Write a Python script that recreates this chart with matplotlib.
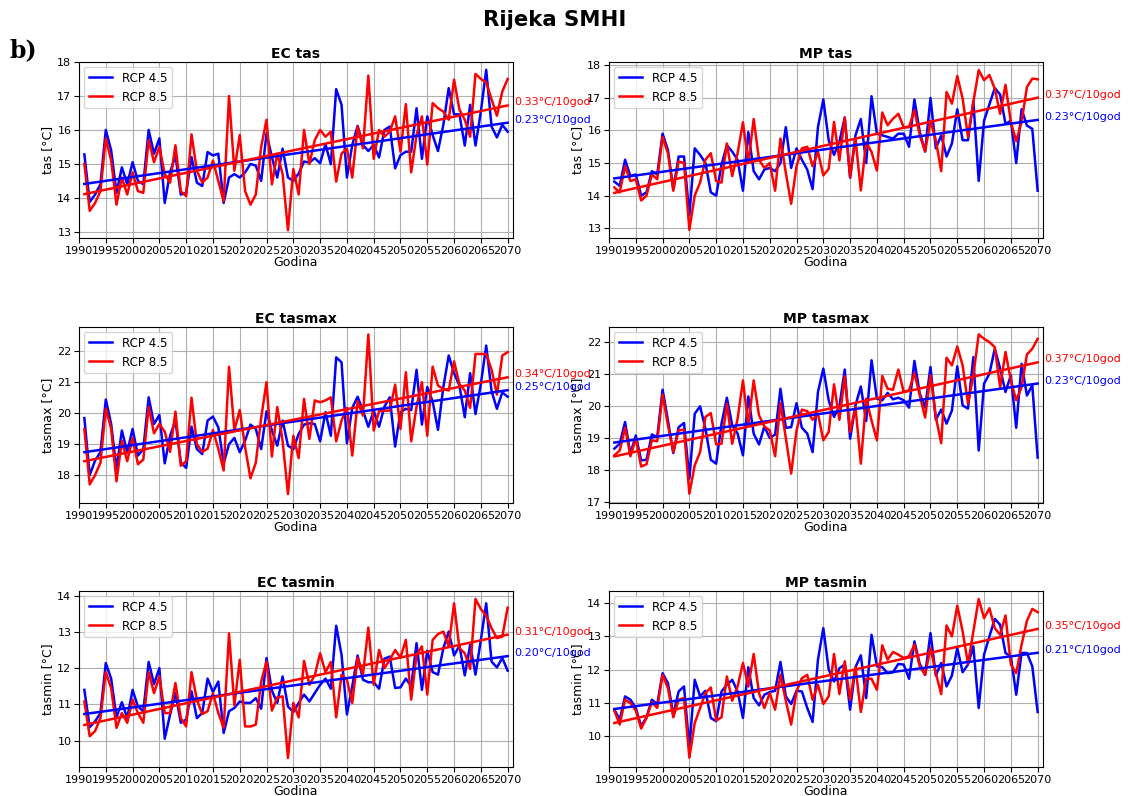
import numpy as np
import matplotlib
matplotlib.use("Agg")
import matplotlib.pyplot as plt

years = np.arange(1991, 2071)

ec_tas_45 = [15.28, 13.88, 14.1, 14.4, 16.0, 15.4, 14.15, 14.9, 14.4, 15.05,
             14.5, 14.4, 16.0, 15.3, 15.75, 13.85, 14.75, 15.25, 14.1, 14.15,
             15.2, 14.45, 14.35, 15.35, 15.25, 15.3, 13.85, 14.6, 14.7, 14.6,
             14.75, 15.0, 14.95, 14.5, 15.9, 15.2, 14.6, 15.45, 14.6, 14.5,
             14.72, 15.07, 15.04, 15.17, 15.02, 15.58, 14.99, 17.2, 16.74, 14.6,
             15.56, 16.12, 15.56, 15.38, 15.56, 15.19, 16.0, 16.1, 14.87, 15.26,
             15.36, 15.36, 16.64, 15.15, 16.4, 15.85, 15.38, 16.15, 17.23, 16.46,
             16.46, 15.54, 16.74, 15.54, 16.54, 17.77, 16.1, 15.78, 16.15, 15.95]
ec_tas_85 = [15.0, 13.62, 13.85, 14.2, 15.75, 15.1, 13.8, 14.6, 14.1, 14.75,
             14.2, 14.15, 15.7, 15.05, 15.5, 14.7, 14.45, 15.55, 14.2, 14.05,
             15.87, 14.8, 14.45, 14.6, 15.1, 14.5, 13.9, 17.0, 14.8, 15.85,
             14.2, 13.8, 14.1, 15.5, 16.3, 14.4, 15.3, 14.7, 13.05, 14.85,
             14.1, 16.0, 15.0, 15.7, 16.0, 15.8, 15.95, 14.48, 15.3, 15.45,
             14.6, 16.1, 15.46, 17.6, 15.15, 16.0, 15.8, 15.95, 16.4, 15.36,
             16.76, 14.75, 15.85, 16.4, 14.98, 16.79, 16.64, 16.54, 16.3, 17.48,
             16.6, 16.3, 15.8, 17.65, 17.5, 17.4, 16.9, 16.42, 17.13, 17.5]

mp_tas_45 = [14.43, 14.3, 15.1, 14.6, 14.65, 14.0, 14.1, 14.75, 14.65, 15.9,
             15.4, 14.2, 15.2, 15.2, 13.4, 15.45, 15.25, 15.0, 14.1, 14.0,
             14.95, 15.55, 15.35, 15.1, 14.15, 15.95, 14.75, 14.5, 14.8, 14.85,
             14.75, 15.0, 16.1, 14.85, 15.45, 15.1, 14.8, 14.2, 16.1, 16.95,
             15.7, 15.25, 15.65, 16.4, 14.55, 15.85, 16.35, 15.0, 17.05, 15.9,
             15.85, 15.8, 15.75, 15.9, 15.9, 15.5, 16.95, 15.95, 15.35, 17.0,
             15.45, 15.85, 15.2, 15.6, 16.65, 15.7, 15.7, 16.9, 14.45, 16.3,
             16.8, 17.3, 17.1, 16.2, 16.3, 15.0, 16.65, 16.15, 16.05, 14.15]
mp_tas_85 = [14.25, 14.1, 14.9, 14.45, 14.5, 13.85, 14.0, 14.65, 14.5, 15.8,
             15.3, 14.15, 15.05, 15.0, 12.95, 14.0, 14.4, 15.1, 15.3, 14.45,
             14.4, 15.6, 14.6, 15.3, 16.25, 15.0, 16.35, 15.1, 14.85, 15.0,
             14.15, 15.75, 14.7, 13.75, 14.9, 15.45, 15.5, 14.9, 15.34, 14.62,
             14.82, 16.26, 15.08, 16.39, 14.57, 15.75, 14.16, 15.64, 15.34, 14.77,
             16.55, 16.16, 16.36, 16.51, 16.1, 16.1, 16.62, 15.85, 15.36, 16.29,
             15.7, 14.75, 17.18, 16.82, 17.67, 16.98, 15.8, 16.87, 17.85, 17.54,
             17.7, 17.28, 16.51, 17.4, 16.26, 15.67, 16.26, 17.33, 17.59, 17.57]

ec_tasmax_45 = [19.84, 18.0, 18.47, 18.74, 20.44, 19.65, 18.2, 19.44, 18.74, 19.49,
                18.63, 18.84, 20.51, 19.65, 19.94, 18.38, 19.27, 19.76, 18.41, 18.23,
                19.56, 18.84, 18.68, 19.76, 19.89, 19.54, 18.38, 19.0, 19.2, 18.74,
                19.11, 19.63, 19.49, 18.84, 20.06, 19.44, 18.95, 19.76, 18.95, 18.84,
                19.33, 19.63, 19.67, 19.65, 19.09, 20.03, 19.27, 21.8, 21.64, 19.03,
                20.17, 20.53, 20.08, 19.56, 20.08, 19.56, 20.21, 20.51, 18.92, 20.03,
                20.14, 20.1, 21.4, 19.63, 20.84, 20.38, 19.46, 20.84, 21.86, 21.29,
                20.89, 19.87, 21.29, 19.97, 20.94, 22.18, 20.71, 20.14, 20.67, 20.53]
ec_tasmax_85 = [19.49, 17.7, 18.0, 18.4, 20.15, 19.5, 17.8, 19.1, 18.45, 19.2,
                18.35, 18.5, 20.2, 19.35, 19.65, 19.4, 18.75, 20.05, 18.3, 18.45,
                20.5, 19.0, 18.75, 18.85, 19.45, 18.85, 18.15, 21.5, 19.45, 20.1,
                18.9, 17.9, 18.4, 19.85, 21.0, 18.6, 20.2, 19.1, 17.39, 19.27,
                18.55, 20.46, 19.17, 20.41, 20.35, 20.41, 20.51, 19.09, 19.76, 20.17,
                18.63, 20.38, 19.92, 22.54, 19.44, 20.06, 20.08, 20.08, 20.92, 19.49,
                21.32, 19.09, 20.21, 21.0, 19.27, 21.5, 20.89, 20.78, 20.73, 21.67,
                20.94, 20.73, 20.17, 21.91, 21.91, 21.91, 21.4, 20.6, 21.86, 21.97]

mp_tasmax_45 = [18.67, 18.82, 19.5, 18.51, 19.08, 18.3, 18.32, 19.11, 19.03, 20.51,
                19.55, 18.53, 19.34, 19.47, 17.73, 19.76, 19.99, 19.29, 18.32, 18.2,
                19.45, 20.26, 19.4, 19.14, 18.46, 20.3, 19.14, 18.8, 19.36, 19.0,
                19.11, 20.54, 19.32, 19.34, 20.09, 19.32, 19.14, 18.56, 20.44, 21.17,
                20.18, 19.66, 19.99, 21.14, 18.98, 20.02, 20.61, 19.53, 21.43, 20.23,
                20.18, 20.41, 20.21, 20.26, 20.18, 19.95, 21.41, 20.39, 19.95, 21.22,
                19.57, 19.89, 19.45, 19.86, 21.24, 20.02, 19.92, 21.53, 18.61, 20.7,
                21.01, 21.79, 21.17, 20.44, 20.96, 19.32, 21.32, 20.33, 20.65, 18.39]
mp_tasmax_85 = [18.46, 18.61, 19.32, 18.43, 18.98, 18.11, 18.18, 18.93, 18.9, 20.36,
                19.4, 18.56, 19.24, 19.26, 17.26, 18.15, 18.56, 19.66, 19.78, 18.8,
                18.82, 20.07, 18.82, 19.6, 20.8, 19.4, 20.8, 19.71, 19.36, 19.24,
                18.43, 20.09, 19.0, 17.89, 19.24, 19.89, 19.84, 19.57, 19.76, 18.93,
                19.19, 20.68, 19.57, 20.93, 19.19, 19.97, 18.2, 20.23, 19.55, 18.93,
                20.94, 20.54, 20.51, 21.14, 20.44, 20.49, 21.03, 20.33, 19.64, 20.96,
                19.66, 18.84, 21.51, 21.27, 21.86, 21.27, 20.07, 20.96, 22.24, 22.1,
                22.0, 21.84, 20.59, 21.69, 20.8, 20.18, 20.59, 21.61, 21.79, 22.1]

ec_tasmin_45 = [11.4, 10.37, 10.53, 10.76, 12.14, 11.71, 10.64, 11.06, 10.62, 11.4,
                10.94, 10.81, 12.17, 11.56, 12.0, 10.05, 10.72, 11.31, 10.49, 10.58,
                11.36, 10.62, 10.76, 11.71, 11.34, 11.63, 10.21, 10.81, 10.9, 11.08,
                11.04, 11.04, 11.17, 10.88, 12.28, 11.38, 11.04, 11.77, 10.94, 10.79,
                11.04, 11.27, 11.08, 11.31, 11.54, 11.71, 11.43, 13.17, 12.37, 10.72,
                11.5, 12.35, 11.68, 11.61, 11.61, 11.43, 12.26, 12.32, 11.45, 11.47,
                11.71, 11.5, 12.69, 11.4, 12.48, 11.89, 11.82, 12.55, 13.01, 12.35,
                12.62, 11.8, 12.64, 11.82, 12.78, 13.79, 12.18, 12.02, 12.28, 11.93]
ec_tasmin_85 = [11.08, 10.12, 10.26, 10.62, 11.89, 11.45, 10.35, 10.76, 10.49, 11.13,
                10.76, 10.49, 11.89, 11.31, 11.77, 10.76, 10.76, 11.59, 10.62, 10.39,
                11.89, 11.13, 10.73, 10.81, 11.31, 10.76, 10.35, 12.96, 10.97, 12.23,
                10.39, 10.39, 10.44, 11.63, 12.18, 10.83, 11.19, 11.22, 9.52, 11.04,
                10.64, 12.2, 11.54, 11.8, 12.41, 11.89, 12.17, 10.64, 11.82, 11.68,
                11.04, 12.29, 11.82, 13.12, 11.54, 12.5, 12.0, 12.23, 12.5, 12.29,
                12.78, 11.13, 12.37, 12.6, 11.27, 12.78, 12.94, 13.01, 12.6, 13.79,
                12.55, 12.41, 11.98, 13.91, 13.63, 13.45, 13.1, 12.83, 12.87, 13.67]

mp_tasmin_45 = [10.79, 10.49, 11.19, 11.09, 10.84, 10.29, 10.56, 11.09, 10.96, 11.89,
                11.59, 10.64, 11.34, 11.49, 9.64, 11.69, 11.19, 11.36, 10.54, 10.44,
                11.34, 11.54, 11.69, 11.34, 10.54, 12.07, 11.14, 10.92, 11.24, 11.32,
                11.36, 12.23, 11.19, 10.96, 11.36, 11.34, 10.84, 10.42, 12.3, 13.25,
                12.0, 11.64, 12.04, 12.15, 10.79, 12.07, 12.43, 11.14, 13.05, 12.1,
                12.07, 11.89, 11.92, 12.17, 12.15, 11.72, 12.85, 12.17, 11.84, 13.1,
                11.82, 12.2, 11.49, 11.82, 12.65, 11.92, 12.15, 12.7, 10.84, 12.45,
                13.0, 13.53, 13.35, 12.5, 12.4, 11.24, 12.5, 12.5, 12.1, 10.72]
mp_tasmin_85 = [10.76, 10.34, 11.09, 10.99, 10.76, 10.22, 10.54, 11.02, 10.84, 11.84,
                11.44, 10.56, 11.09, 11.14, 9.34, 10.39, 10.84, 11.29, 11.46, 10.46,
                10.56, 11.79, 11.06, 11.49, 12.2, 11.49, 12.47, 11.29, 10.84, 11.29,
                10.79, 11.84, 11.06, 10.34, 11.34, 11.74, 11.84, 11.09, 11.54, 10.96,
                11.19, 12.47, 11.26, 12.25, 11.09, 12.07, 10.72, 11.72, 11.72, 11.39,
                12.73, 12.3, 12.53, 12.45, 12.35, 12.4, 12.75, 12.1, 11.84, 12.65,
                11.89, 11.26, 13.33, 13.0, 13.93, 13.15, 12.17, 13.15, 14.13, 13.55,
                13.85, 13.25, 13.05, 13.63, 12.15, 11.89, 12.75, 13.47, 13.83, 13.73]

titles = ["EC tas", "MP tas", "EC tasmax", "MP tasmax", "EC tasmin", "MP tasmin"]
ylabels = ["tas [°C]", "tas [°C]", "tasmax [°C]", "tasmax [°C]", "tasmin [°C]", "tasmin [°C]"]
series_45 = [ec_tas_45, mp_tas_45, ec_tasmax_45, mp_tasmax_45, ec_tasmin_45, mp_tasmin_45]
series_85 = [ec_tas_85, mp_tas_85, ec_tasmax_85, mp_tasmax_85, ec_tasmin_85, mp_tasmin_85]
trend_45 = ["0.23°C/10god", "0.23°C/10god", "0.25°C/10god", "0.23°C/10god", "0.20°C/10god", "0.21°C/10god"]
trend_85 = ["0.33°C/10god", "0.37°C/10god", "0.34°C/10god", "0.37°C/10god", "0.31°C/10god", "0.35°C/10god"]
ylims = [(12.82, 18.0), (12.7, 18.1), (17.1, 22.78), (16.97, 22.47), (9.27, 14.13), (9.06, 14.37)]
yticks = [range(13, 19), range(13, 19), range(18, 23), range(17, 23), range(10, 15), range(10, 15)]
xticks = list(range(1990, 2071, 5))
legend_labels = ["RCP 4.5", "RCP 8.5"]

W, H = 1134, 796
fig = plt.figure(figsize=(W / 100, H / 100), dpi=100)

lefts = [79, 609]
tops = [62, 327, 591]
aw, ah = 434, 176

fig.text(555 / W, 1 - 20 / H, "Rijeka SMHI", ha="center", va="center",
         fontsize=15.3, fontweight="bold")
fig.text(10 / W, 1 - 50 / H, "b)", ha="left", va="center", fontsize=17,
         fontweight="bold", family="DejaVu Serif")

for i in range(6):
    r, c = divmod(i, 2)
    ax = fig.add_axes([lefts[c] / W, 1 - (tops[r] + ah) / H, aw / W, ah / H])
    y45 = np.array(series_45[i])
    y85 = np.array(series_85[i])
    ax.plot(years, y45, color="blue", lw=1.8, label=legend_labels[0])
    ax.plot(years, y85, color="red", lw=1.8, label=legend_labels[1])
    p45 = np.polyfit(years, y45, 1)
    p85 = np.polyfit(years, y85, 1)
    ax.plot(years, np.polyval(p45, years), color="blue", lw=1.8)
    ax.plot(years, np.polyval(p85, years), color="red", lw=1.8)
    ax.text(2071.2, np.polyval(p85, 2070), trend_85[i], color="red", fontsize=8,
            va="baseline", ha="left", clip_on=False)
    ax.text(2071.2, np.polyval(p45, 2070), trend_45[i], color="blue", fontsize=8,
            va="baseline", ha="left", clip_on=False)
    ax.set_xlim(1990.3, 2071)
    ax.set_ylim(*ylims[i])
    ax.set_xticks(xticks)
    ax.set_yticks(list(yticks[i]))
    ax.tick_params(labelsize=8, pad=2)
    ax.grid(True, color="#b0b0b0", lw=0.8)
    ax.set_title(titles[i], fontsize=10, fontweight="bold", pad=3)
    ax.set_xlabel("Godina", fontsize=9, labelpad=0)
    ax.set_ylabel(ylabels[i], fontsize=9, labelpad=2)
    ax.legend(loc="upper left", fontsize=8.6, handlelength=2.0,
              borderaxespad=0.4)

fig.savefig("out.png", dpi=100)
